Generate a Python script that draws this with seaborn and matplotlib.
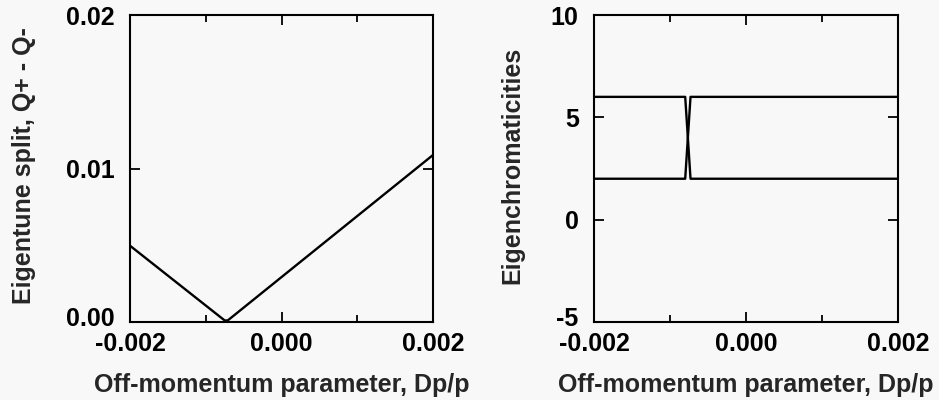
import matplotlib
matplotlib.use("Agg")
import matplotlib.pyplot as plt
import matplotlib.transforms as mtransforms
import seaborn as sns
import pandas as pd
from matplotlib.ticker import MultipleLocator, FormatStrFormatter

# Left panel: eigentune split vs off-momentum parameter
dp_split = [-0.002, -0.00075, -0.00071, 0.002]
split = [0.00497, 0.0001, 0.0001, 0.01088]

# Right panel: eigenchromaticities vs off-momentum parameter
dp_chrom = [-0.002, -0.00080, -0.000765, -0.00073, 0.002]
chrom_a = [6.0, 6.0, 4.0, 2.0, 2.0]
chrom_b = [2.0, 2.0, 4.0, 6.0, 6.0]

xlabel = "Off-momentum parameter, Dp/p"
ylabel_left = "Eigentune split, Q+ - Q-"
ylabel_right = "Eigenchromaticities"

sns.set_style("ticks")
plt.rcParams["font.family"] = ["Liberation Sans", "DejaVu Sans"]
plt.rcParams["font.size"] = 18
plt.rcParams["font.weight"] = "bold"

FS = 18
bg = "#f8f8f8"
fig = plt.figure(figsize=(9.39, 4.0), dpi=100, facecolor=bg)

axL = fig.add_axes([130/939, 78/400, 303/939, 307/400])
axR = fig.add_axes([594/939, 78/400, 304/939, 307/400])

dfL = pd.DataFrame({"x": dp_split, "y": split})
sns.lineplot(data=dfL, x="x", y="y", ax=axL, color="black", lw=1.7, sort=False)

dfA = pd.DataFrame({"x": dp_chrom, "y": chrom_a})
dfB = pd.DataFrame({"x": dp_chrom, "y": chrom_b})
sns.lineplot(data=dfA, x="x", y="y", ax=axR, color="black", lw=1.7, sort=False)
sns.lineplot(data=dfB, x="x", y="y", ax=axR, color="black", lw=1.7, sort=False)

for ax in (axL, axR):
    ax.set_facecolor(bg)
    ax.set_xlim(-0.002, 0.002)
    ax.xaxis.set_major_locator(MultipleLocator(0.002))
    ax.xaxis.set_minor_locator(MultipleLocator(0.001))
    ax.xaxis.set_major_formatter(FormatStrFormatter("%.3f"))
    ax.tick_params(which="both", direction="in", top=True, right=True, colors="black",
                   width=1.3)
    ax.tick_params(which="major", length=7)
    ax.tick_params(which="minor", length=5)
    ax.tick_params(axis="x", which="major", pad=7, labelsize=FS)
    ax.tick_params(axis="y", which="major", pad=11, labelsize=FS)
    for s in ax.spines.values():
        s.set_linewidth(1.5)
        s.set_color("black")
        s.set_visible(True)
    ax.set_xlabel(xlabel, fontsize=FS, fontweight="bold")
    ax.xaxis.set_label_coords(0.5, -0.165)

axL.set_ylim(0, 0.02)
axL.yaxis.set_major_locator(MultipleLocator(0.01))
axL.yaxis.set_major_formatter(FormatStrFormatter("%.2f"))
axL.set_ylabel(ylabel_left, fontsize=FS, fontweight="bold", va="center")
axL.yaxis.set_label_coords(-0.35, 0.51)

axR.set_ylim(-5, 10)
axR.yaxis.set_major_locator(MultipleLocator(5))
axR.yaxis.set_major_formatter(FormatStrFormatter("%d"))
axR.set_ylabel(ylabel_right, fontsize=FS, fontweight="bold", va="center")
axR.yaxis.set_label_coords(-0.27, 0.51)

# raise the bottom y tick label slightly, as in the reference
fig.canvas.draw()
offset = mtransforms.ScaledTranslation(0, 4/72, fig.dpi_scale_trans)
for ax in (axL, axR):
    ymin = ax.get_ylim()[0]
    for tick in ax.yaxis.get_major_ticks():
        if abs(tick.get_loc() - ymin) < 1e-9:
            lbl = tick.label1
            lbl.set_transform(lbl.get_transform() + offset)

fig.savefig("out.png", dpi=100, facecolor=bg)
